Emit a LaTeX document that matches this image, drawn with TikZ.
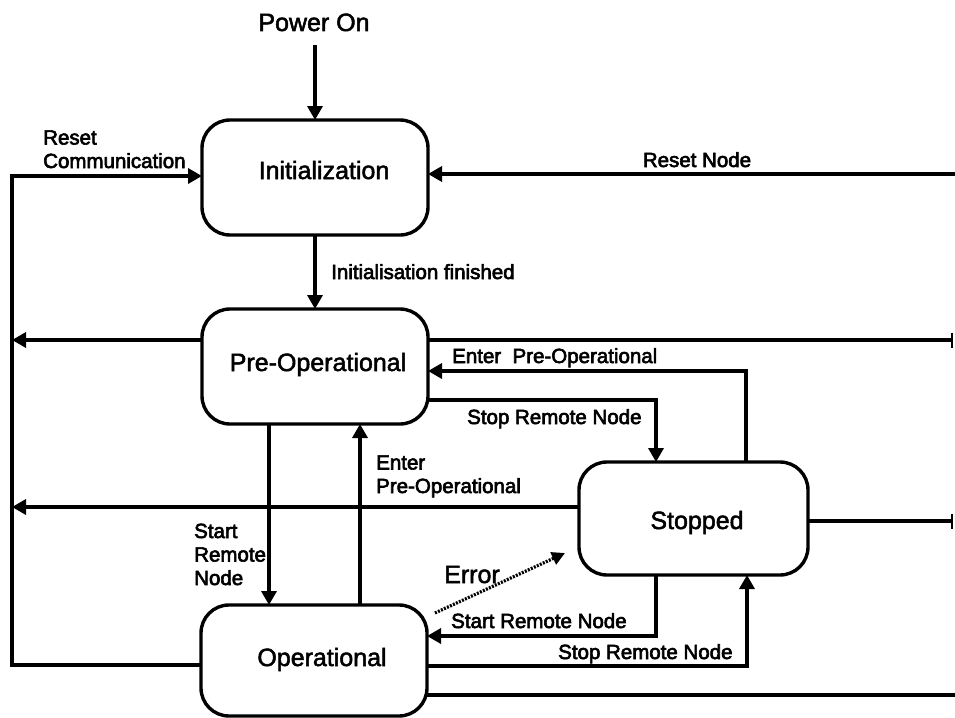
\documentclass[tikz,border=0pt]{standalone}
\usepackage{fontspec}
\setmainfont{Liberation Sans}
\usetikzlibrary{arrows.meta}
\begin{document}
\begin{tikzpicture}[x=1pt,y=-1pt,
  state/.style={draw, line width=3.4pt, rounded corners=28pt, outer sep=0pt, inner sep=0pt},
  big/.style={font=\fontsize{25}{30}\selectfont\addfontfeature{FakeBold=2}, inner sep=0pt, anchor=base},
  lbl/.style={font=\fontsize{20.5}{23.5}\selectfont\addfontfeature{FakeBold=3}, inner sep=0pt, anchor=base west, align=left},
  conn/.style={line width=3.4pt},
  arr/.style={conn, -{Triangle[length=14pt,width=15pt]}},
  barend/.style={conn, -{Bar[width=15pt,line width=2.2pt]}},
  errarr/.style={line width=3.2pt, dash pattern=on 2pt off 1.3pt, -{Triangle[length=13pt,width=13pt]}}
]
\useasboundingbox (0,0) rectangle (955,717);

% states
\node[state, minimum width=226pt, minimum height=115pt] (init)    at (315,177.5) {};
\node[state, minimum width=226pt, minimum height=115pt] (preop)   at (315,366.5) {};
\node[state, minimum width=229pt, minimum height=113pt] (stopped) at (693.5,518.5) {};
\node[state, minimum width=226pt, minimum height=111pt] (op)      at (314,660.5) {};

\node[big] (tinit)    at (324,179) {Initialization};
\node[big] (tpreop)   at (318,371) {Pre-Operational};
\node[big] (tstopped) at (697,529) {Stopped};
\node[big] (top)      at (322,666) {Operational};

% labels
\node[big] (power) at (314,31) {Power On};
\node[big, anchor=base west] (terror) at (444,583) {Error};
\node[lbl] (lrc)   at (43,168) {Reset\\Communication};
\node[lbl, anchor=base] (lrn) at (697,167) {Reset Node};
\node[lbl] (lif)   at (331,279) {Initialisation finished};
\node[lbl] (lep1)  at (452,363) {Enter\ \ Pre-Operational};
\node[lbl] (lsr1)  at (467,424) {Stop Remote Node};
\node[lbl] (lep2)  at (376,493) {Enter\\Pre-Operational};
\node[lbl] (lsr2)  at (194,585) {Start\\Remote\\Node};
\node[lbl] (lsr3)  at (451,628) {Start Remote Node};
\node[lbl] (lsr4)  at (558,659) {Stop Remote Node};

% helper coordinates
\coordinate (pw)  at (315,45);
\coordinate (rn)  at (955,174);
\coordinate (L0)  at (12,176);
\coordinate (L1)  at (12,665);
\coordinate (pl)  at (12,340);
\coordinate (pr)  at (953,340);
\coordinate (s1)  at (656,400);
\coordinate (e1)  at (746,371);
\coordinate (sl)  at (12,507);
\coordinate (sr)  at (953,521);
\coordinate (v1)  at (269,0);
\coordinate (v2)  at (360,0);
\coordinate (s2)  at (656,636);
\coordinate (s3)  at (747,666);
\coordinate (b1)  at (955,695);
\coordinate (er0) at (435,613);
\coordinate (er1) at (565,553);

% connectors
\draw[arr] (pw) -- (init.north);
\draw[arr] (init.south) -- (preop.north);
\draw[arr] (rn) -- (init.east |- rn);
\draw[arr] (op.west |- L1) -- (L1) -- (L0) -- (init.west |- L0);
\draw[arr] (preop.west |- pl) -- (pl);
\draw[barend] (preop.east |- pr) -- (pr);
\draw[arr] (preop.east |- s1) -- (s1) -- (s1 |- stopped.north);
\draw[arr] (e1 |- stopped.north) -- (e1) -- (preop.east |- e1);
\draw[arr] (stopped.west |- sl) -- (sl);
\draw[barend] (stopped.east |- sr) -- (sr);
\draw[arr] (v1 |- preop.south) -- (v1 |- op.north);
\draw[arr] (v2 |- op.north) -- (v2 |- preop.south);
\draw[arr] (s2 |- stopped.south) -- (s2) -- (op.east |- s2);
\draw[arr] (op.east |- s3) -- (s3) -- (s3 |- stopped.south);
\draw[conn] (op.east |- b1) -- (b1);
\draw[errarr] (er0) -- (er1);
\end{tikzpicture}
\end{document}
